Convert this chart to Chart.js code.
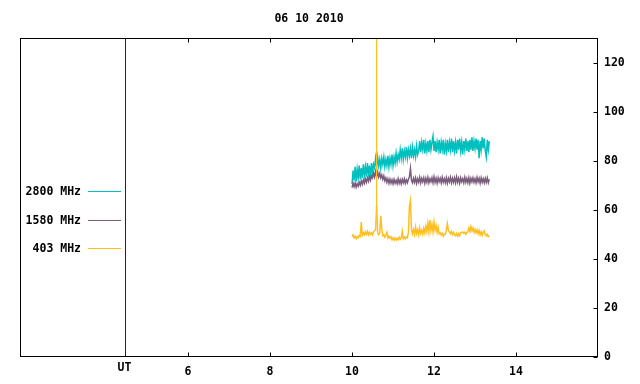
<!DOCTYPE html>
<html>
<head>
<meta charset="utf-8">
<script src="https://cdn.jsdelivr.net/npm/chart.js@4/dist/chart.umd.min.js"></script>
<style>
  html, body { margin: 0; padding: 0; background: #fff; }
</style>
</head>
<body>
<canvas id="chart" width="640" height="384"></canvas>
<script>
'use strict';

// Radio flux chart: three frequencies on one UT axis
const TITLE     = '06 10 2010';
const UT_MARK   = 4.46;
const UT_START  = 10.0;   // first sample (hours UT)
const UT_STEP   = 0.025;  // sample spacing (hours)
const Y_MAX     = 130;

const X_TICKS   = [4.46, 6, 8, 10, 12, 14];
const X_LABELS  = ['UT', '6', '8', '10', '12', '14'];
const Y_TICKS   = [0, 20, 40, 60, 80, 100, 120];

const SERIES_NAMES  = ['2800 MHz', '1580 MHz', '403 MHz'];
const SERIES_COLORS = ['#00bfbf', '#7a5c7c', '#ffbf20'];

// 2800 MHz flux
const FLUX_2800 = [
  70.5, 76, 72, 77.5, 71.5, 76.5, 73, 78, 72.5, 77,
  73, 78.5, 74, 77.5, 73.5, 79, 74.5, 78, 72.5, 79, 75, 78.5,
  77, 81, 77.5, 81.5, 78, 80.5, 77, 81, 78.5, 81.5, 77.5, 80.5,
  78, 82, 77.5, 81, 78.5, 82.5, 78, 81.5, 79, 83, 79.5, 82.5,
  80.5, 84.5, 81, 85, 80.5, 84, 81.5, 85.5, 81, 84.5,
  82, 85, 81, 85.5, 82, 84.5, 81.5, 86, 82.5,
  84, 88, 83.5, 87.5, 84.5, 88.5, 83, 87, 84, 88,
  83.5, 88.5, 84.5, 87.5, 90, 84, 88, 83.5, 87.5, 84.5,
  88.5, 83, 87.5, 84.5, 88.5, 82.5, 87, 84, 88.5, 83.5,
  87.5, 84.5, 89, 83.5, 88, 84, 87.5, 83, 88.5, 84.5,
  89, 84, 87.5, 82.5, 88, 84.5, 89, 84, 88, 83.5,
  88.5, 84.5, 89.5, 84, 88, 85, 89, 84.5, 88.5, 81,
  88, 84.5, 89.5, 85, 89, 84, 81.5, 88.5, 84.5, 88
];

// 1580 MHz flux
const FLUX_1580 = [
  69, 70.8, 69.4, 71, 69.2, 70.6, 69.6, 71.2,
  70, 71.8, 70.4, 72.2, 70.8, 72.6, 71.2, 73, 71.6, 73.4, 72, 73.8,
  73, 75, 73.4, 75.6, 73.6, 75.4, 73.4, 74.8, 73,
  74.2, 72.4, 73.8, 71.8, 73, 71.2, 72.6, 70.8, 72.4, 70.8,
  72.2, 70.6, 72.4, 70.8, 72, 70.6, 72.6, 70.8, 72.2, 70.6,
  72.4, 71, 72.6, 70.8, 72.2, 71, 72.4,
  73.5, 76.8, 72,
  71, 72.8, 71.2, 73, 70.8, 72.6, 71.2, 73.2, 71, 72.8,
  71.4, 73, 70.8, 72.8, 71.2, 73.2, 71, 72.6, 71.4, 73,
  71, 73.4, 71.2, 72.8, 70.8, 73, 71.4, 72.8, 71, 73.2,
  71.2, 72.6, 71, 73, 70.8, 72.8, 71.4, 73.2, 71, 72.8,
  71.2, 73, 71, 73.4, 71.2, 72.8, 70.8, 73, 71.4, 72.6,
  71, 73.2, 71.2, 72.8, 71, 73, 70.8, 72.8, 71.4, 73,
  71.2, 72.6, 71, 73.2, 71.4, 72.8, 70.8, 73, 71.2, 72.6,
  71, 72.8, 71.2, 73, 71, 72.4
];

// 403 MHz flux
const FLUX_403 = [
  49.0, 49.8, 48.6, 49.2, 48.2, 49.0, 48.6, 49.6,
  49.2, 55.0,
  49.6, 50.6, 49.8, 51.0, 50.0, 51.2, 49.8, 50.8, 50.0, 50.6, 49.8, 51.0, 51.5,
  52.0, 61.5, 50.5, 49.8,
  50.6, 57.5, 52.5, 49.4,
  49.8, 48.8, 49.6, 50.8, 48.6, 49.2, 48.4, 49.0,
  47.8, 48.6, 47.6, 48.4, 47.6, 48.4, 47.8, 48.8,
  48.0, 48.6, 51.2, 48.2, 48.8, 48.2, 49.0, 48.6,
  50.8, 61.5, 63.8, 52.0,
  50.2, 52.0, 50.0, 53.0, 50.4, 51.8, 49.8, 52.6, 50.4, 51.6,
  50.0, 52.4, 50.6, 53.2, 51.0, 54.6, 51.2, 55.8, 51.6, 54.0,
  51.0, 55.0, 51.8, 53.6, 50.8, 52.8, 50.2, 50.6, 49.8, 50.4,
  49.2, 50.0, 50.0, 51.8, 54.4, 51.6, 51.0, 50.2, 51.2, 50.0,
  50.8, 49.8,
  49.4, 50.4, 49.2, 50.2, 49.4, 50.6, 50.8, 51.0, 50.4, 50.8,
  50.0, 50.8, 51.0, 52.6, 51.2, 53.2, 51.4, 52.6, 50.8, 52.0,
  50.6, 51.8, 50.2, 51.6, 49.8, 51.0, 49.6, 50.8, 51.4, 49.8,
  49.4, 50.0, 49.0, 49.4
];

// Very short 403 MHz burst inside the 10.600 UT sample, far off the top
const BURST_403_INDEX = 24;
const BURST_403_FLUX  = 1000;

const FONT = { family: '"DejaVu Sans Mono", monospace', size: 11.5, weight: 'bold' };
const FONT_CSS = 'bold 11.5px "DejaVu Sans Mono", monospace';
const TICK_LEN = 4;

// Samples -> {x, y} on the UT grid
function toPoints(values) {
  return values.map((v, i) => ({ x: UT_START + i * UT_STEP, y: v }));
}

// The burst rises and falls within one sample: up and back at the same UT
const points403 = toPoints(FLUX_403);
const burstAt   = points403[BURST_403_INDEX];
points403.splice(BURST_403_INDEX + 1, 0,
  { x: burstAt.x, y: BURST_403_FLUX },
  { x: burstAt.x, y: burstAt.y });

const ALL_POINTS = [toPoints(FLUX_2800), toPoints(FLUX_1580), points403];

// Segments leaving the plot (the burst) are drawn hairline-thin
function segmentWidth(ctx) {
  const off = ctx.p0.parsed.y > Y_MAX || ctx.p1.parsed.y > Y_MAX;
  return off ? 1 : 1.5;
}

const datasets = ALL_POINTS.map((pts, k) => ({
  label:       SERIES_NAMES[k],
  data:        pts,
  borderColor: SERIES_COLORS[k],
  borderWidth: 1.5,
  segment:     { borderWidth: segmentWidth },
  pointRadius: 0,
  tension:     0,
  order:       ALL_POINTS.length - k,   // later series drawn on top
}));

// ------------------------------------------------------------------
// Frame, inward ticks, UT marker, key and title
// ------------------------------------------------------------------
const radioFrame = {
  id: 'radioFrame',
  afterDraw(chart) {
    const { ctx, chartArea: a, scales: { x, y } } = chart;
    const L = Math.round(a.left) + 0.5;
    const R = Math.round(a.right) - 0.5;
    const T = Math.round(a.top) + 0.5;
    const B = Math.round(a.bottom) - 0.5;

    ctx.save();
    ctx.lineWidth = 1;

    // UT marker line
    const ux = Math.round(x.getPixelForValue(UT_MARK)) + 0.5;
    ctx.strokeStyle = '#800000';
    ctx.beginPath();
    ctx.moveTo(ux, T);
    ctx.lineTo(ux, B);
    ctx.stroke();

    // border
    ctx.strokeStyle = '#000';
    ctx.strokeRect(L, T, R - L, B - T);

    // tick marks pointing inward
    ctx.beginPath();
    X_TICKS.forEach(v => {
      if (v === UT_MARK) return;
      const px = Math.round(x.getPixelForValue(v)) + 0.5;
      ctx.moveTo(px, B); ctx.lineTo(px, B - TICK_LEN);
      ctx.moveTo(px, T); ctx.lineTo(px, T + TICK_LEN);
    });
    Y_TICKS.forEach(v => {
      const py = Math.round(y.getPixelForValue(v)) + 0.5;
      ctx.moveTo(R, py); ctx.lineTo(R - TICK_LEN, py);
    });
    ctx.stroke();

    ctx.font = FONT_CSS;
    ctx.fillStyle = '#000';

    // "UT" label sits a little higher than the numbers
    ctx.textAlign = 'center';
    ctx.textBaseline = 'middle';
    ctx.fillText(X_LABELS[0], ux - 1, 368);

    // title
    ctx.fillText(TITLE, (a.left + a.right) / 2, 19);

    // key on the left
    SERIES_NAMES.forEach((name, k) => {
      const ky = Math.round(191 + k * 28.6) + 0.5;
      ctx.textAlign = 'right';
      ctx.fillStyle = '#000';
      ctx.fillText(name, 81, ky + 1);
      ctx.strokeStyle = SERIES_COLORS[k];
      ctx.beginPath();
      ctx.moveTo(88, ky);
      ctx.lineTo(121, ky);
      ctx.stroke();
    });

    ctx.restore();
  }
};

new Chart(document.getElementById('chart'), {
  type: 'line',
  data: { datasets },
  options: {
    responsive: false,
    animation:  false,
    layout: { padding: { left: 20, top: 38, right: 0, bottom: 0 } },
    plugins: {
      legend:  { display: false },
      title:   { display: false },
      tooltip: { enabled: false },
    },
    scales: {
      x: {
        type: 'linear',
        min:  1.9,
        max:  16,
        afterBuildTicks(scale) { scale.ticks = X_TICKS.map(v => ({ value: v })); },
        afterFit(scale) { scale.height = 27; },
        grid:   { display: false, drawTicks: false },
        border: { display: false },
        ticks: {
          autoSkip: false,
          maxRotation: 0,
          padding: 8,
          color: '#000',
          font: FONT,
          callback(val, index) { return index === 0 ? '' : X_LABELS[index]; },
        },
      },
      y: {
        position: 'right',
        min: 0,
        max: Y_MAX,
        afterBuildTicks(scale) { scale.ticks = Y_TICKS.map(v => ({ value: v })); },
        afterFit(scale) { scale.width = 42; },
        grid:   { display: false, drawTicks: false },
        border: { display: false },
        ticks: {
          padding: 6,
          color: '#000',
          font: FONT,
          callback(val) { return String(val); },
        },
      },
    },
  },
  plugins: [radioFrame],
});
</script>
</body>
</html>
